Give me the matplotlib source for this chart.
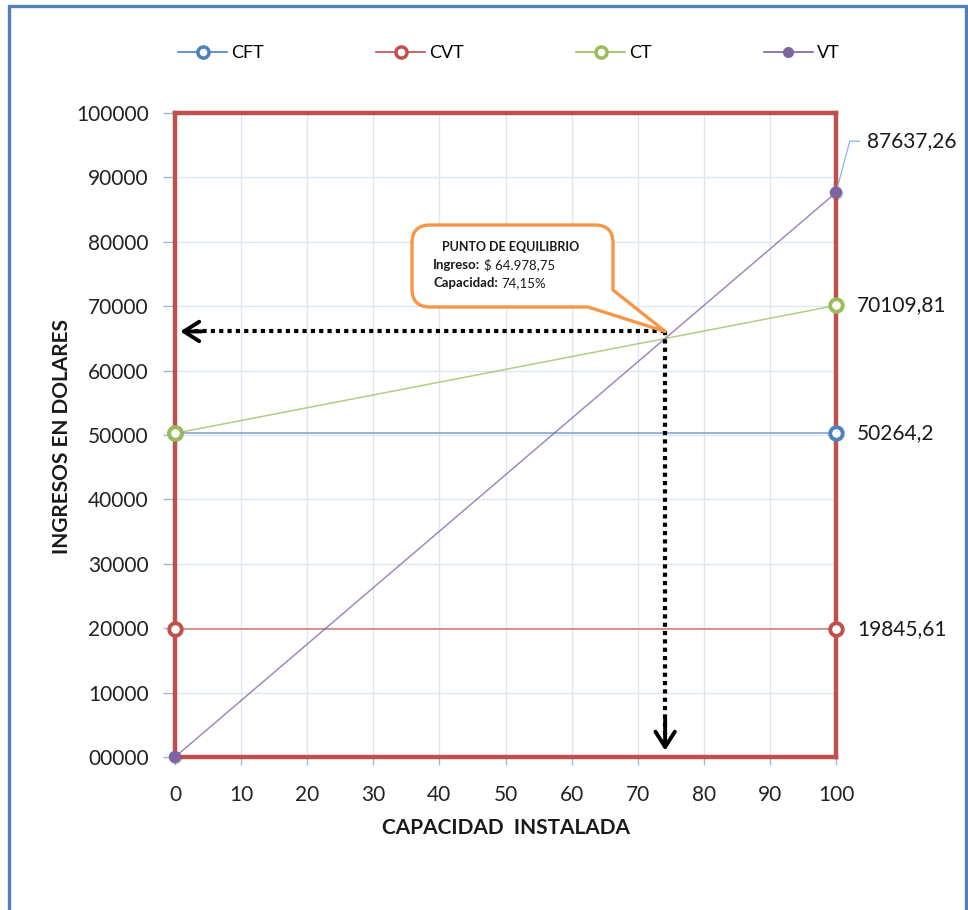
import matplotlib
matplotlib.use("Agg")
import matplotlib.pyplot as plt
import matplotlib.patheffects as pe
from matplotlib.lines import Line2D
from matplotlib.path import Path
from matplotlib.patches import PathPatch, Rectangle

plt.rcParams['font.family'] = ['Lato', 'DejaVu Sans']

# punto de equilibrio: costos fijos, variables, totales y ventas
capacidad = [0, 100]
cft = [50264.2, 50264.2]
cvt = [19845.61, 19845.61]
ct = [50264.2, 70109.81]
vt = [0, 87637.26]
series = ["CFT", "CVT", "CT", "VT"]

eq_capacidad = 74.15
eq_ingreso = 64978.75

xticks = [0, 10, 20, 30, 40, 50, 60, 70, 80, 90, 100]
yticks = [0, 10000, 20000, 30000, 40000, 50000, 60000, 70000, 80000, 90000, 100000]
ytick_labels = ["00000", "10000", "20000", "30000", "40000", "50000",
                "60000", "70000", "80000", "90000", "100000"]

colores = ["#4F81BD", "#C0504D", "#9BBB59", "#8064A2"]
W, H = 968, 910


def fp(x, y):
    # pixel (origen arriba-izquierda) -> fraccion de figura
    return (x / W, 1 - y / H)


def coma(v):
    return str(v).replace('.', ',')


fig = plt.figure(figsize=(W / 100, H / 100), dpi=100)
fig.patch.set_facecolor('white')
ax = fig.add_axes([175 / W, 1 - 757 / H, 661 / W, 644 / H])
ax.set_xlim(0, 100)
ax.set_ylim(0, 100000)

for s in ax.spines.values():
    s.set_color('#C0504D')
    s.set_linewidth(3.2)
    s.set_zorder(2)

ax.set_xticks(xticks)
ax.set_yticks(yticks)
ax.set_yticklabels(ytick_labels)
ax.grid(True, color='#DCE6F4', lw=1)
ax.set_axisbelow(True)
ax.tick_params(axis='x', direction='out', length=6, width=1, color='#9DB9E0',
               pad=14, labelsize=15, labelcolor='#222222')
ax.tick_params(axis='y', direction='out', length=9, width=1, color='#9DB9E0',
               pad=10, labelsize=15, labelcolor='#222222')

# lineas y marcadores
datos = [cft, cvt, ct, vt]
handles = []
for nombre, y, c in zip(series, datos, colores):
    relleno = c if nombre == "VT" else 'white'
    ax.plot(capacidad, y, color=c, lw=1.1, alpha=0.75, zorder=3)
    m, = ax.plot(capacidad, y, ls='none', marker='o', ms=9,
                 mfc=relleno, mec=c, mew=0 if nombre == "VT" else 2.8,
                 clip_on=False, zorder=6)
    if nombre == "VT":
        m.set_path_effects([pe.SimplePatchShadow(offset=(0.8, -0.8), alpha=0.18),
                            pe.Normal()])
    handles.append(Line2D([], [], color=c, lw=1.2, marker='o', ms=8,
                          mfc=relleno, mec=c, mew=0 if nombre == "VT" else 2.5))

fig.legend(handles, series, loc='center', bbox_to_anchor=(0.526, 1 - 53 / H),
           ncol=4, frameon=False, fontsize=13, handlelength=2.7,
           handletextpad=0.25, columnspacing=6.2)

# etiquetas de valor al final de cada serie
for y in [cft, cvt, ct]:
    ax.annotate(coma(y[-1]), xy=(capacidad[-1], y[-1]), xytext=(15, 0),
                textcoords='offset points', va='center', ha='left',
                fontsize=15, color='#1a1a1a', annotation_clip=False)
ax.annotate(coma(vt[-1]), xy=(capacidad[-1], vt[-1]), xytext=(22, 37),
            textcoords='offset points', va='center', ha='left',
            fontsize=15, color='#1a1a1a', annotation_clip=False,
            arrowprops=dict(arrowstyle='-', color='#8EB4E3', lw=0.9,
                            shrinkA=3, shrinkB=0,
                            connectionstyle='angle,angleA=0,angleB=75,rad=0'))

# flechas punteadas hacia los ejes
y_flecha = eq_ingreso + 1100
ax.plot([eq_capacidad, 1.3], [y_flecha, y_flecha], color='black', lw=3,
        ls=(0, (1, 1)), dash_capstyle='butt', zorder=7)
ax.plot([eq_capacidad, eq_capacidad], [y_flecha, 1600], color='black', lw=3,
        ls=(0, (1, 1)), dash_capstyle='butt', zorder=7)
cabeza = dict(arrowstyle='->,head_length=0.55,head_width=0.35', lw=2.8,
              color='black', mutation_scale=20, shrinkA=0, shrinkB=0)
ax.annotate('', xy=(0.8, y_flecha), xytext=(4, y_flecha), arrowprops=cabeza,
            zorder=8)
ax.annotate('', xy=(eq_capacidad, 1000), xytext=(eq_capacidad, 6000),
            arrowprops=cabeza, zorder=8)

# globo de texto del punto de equilibrio
tx, ty = ax.transData.transform((eq_capacidad, y_flecha))
tip = (tx, H - ty)
x0, x1, y0, y1, r = 412, 613, 225, 307, 18
pts = [(x0 + r, y0), (x1 - r, y0), (x1, y0), (x1, y0 + r), (x1, 290), tip,
       (588, y1), (x0 + r, y1), (x0, y1), (x0, y1 - r), (x0, y0 + r),
       (x0, y0), (x0 + r, y0)]
codes = [Path.MOVETO, Path.LINETO, Path.CURVE3, Path.CURVE3, Path.LINETO,
         Path.LINETO, Path.LINETO, Path.LINETO, Path.CURVE3, Path.CURVE3,
         Path.LINETO, Path.CURVE3, Path.CURVE3]
globo = PathPatch(Path([fp(*p) for p in pts] + [fp(x0 + r, y0)],
                       codes + [Path.CLOSEPOLY]),
                  transform=fig.transFigure, facecolor='white',
                  edgecolor='#F79646', lw=2.4, joinstyle='round', zorder=10)
fig.add_artist(globo)

fig.text(*fp(511, 247), "PUNTO DE EQUILIBRIO", ha='center', va='center',
         fontsize=9, fontweight='bold', color='#1a1a1a', zorder=11)
ingreso_txt = f"{eq_ingreso:,.2f}".replace(',', 'X').replace('.', ',').replace('X', '.')
filas = [("Ingreso:", f"$ {ingreso_txt}", 265),
         ("Capacidad:", f"{coma(f'{eq_capacidad:.2f}')}%", 283)]
for etiqueta, valor, yy in filas:
    t = fig.text(*fp(433, yy), etiqueta, ha='left', va='center', fontsize=9.5,
                 fontweight='bold', color='#1a1a1a', zorder=11)
    fig.add_artist(plt.Annotation(valor, xy=(1, 0.5), xycoords=t,
                                  xytext=(2.5, 0), textcoords='offset points',
                                  ha='left', va='center', fontsize=9.5,
                                  color='#1a1a1a', zorder=11))

# titulos de ejes
fig.text(*fp(506, 828), "CAPACIDAD  INSTALADA", ha='center', va='center',
         fontsize=15, fontweight='bold', color='#1a1a1a')
fig.text(*fp(62, 436), "INGRESOS EN DOLARES", ha='center', va='center',
         rotation=90, fontsize=15, fontweight='bold', color='#1a1a1a')

# marco exterior
fig.add_artist(Rectangle(fp(8.5, H + 20), (966 - 8.5) / W, (H + 14) / H,
                         transform=fig.transFigure, fill=False,
                         edgecolor='#4F81BD', lw=2.4, clip_on=False))

fig.savefig('out.png', dpi=100)
